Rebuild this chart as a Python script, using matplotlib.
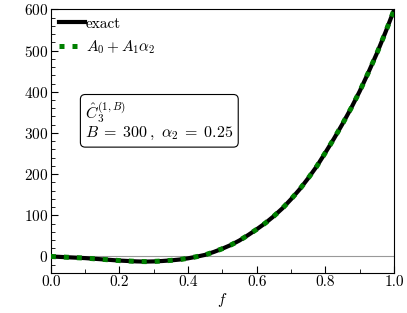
import numpy as np
import matplotlib
matplotlib.use("Agg")
import matplotlib.pyplot as plt

plt.rcParams['font.family'] = 'serif'
plt.rcParams['font.serif'] = ['cmr10']
plt.rcParams['mathtext.fontset'] = 'cm'
plt.rcParams['axes.formatter.use_mathtext'] = True
plt.rcParams['font.size'] = 11

# values
f = [0.000, 0.025, 0.050, 0.075, 0.100, 0.125, 0.150, 0.175, 0.200, 0.225,
     0.250, 0.275, 0.300, 0.325, 0.350, 0.375, 0.400, 0.425, 0.450, 0.475,
     0.500, 0.525, 0.550, 0.575, 0.600, 0.625, 0.650, 0.675, 0.700, 0.725,
     0.750, 0.775, 0.800, 0.825, 0.850, 0.875, 0.900, 0.925, 0.950, 0.975,
     1.000]
exact = [0, -1, -2, -3, -4, -5.5, -7, -8.5, -10, -11,
         -12, -12.5, -12, -11, -9.5, -7.5, -4.5, -0.5, 4, 11,
         19, 28, 39, 52, 66, 81, 98, 117, 139, 163,
         190, 219, 252, 286, 322, 360, 401, 446, 493, 544,
         598]
approx = list(exact)  # A0 + A1*alpha2 lies on top of the exact curve

fig = plt.figure(figsize=(4.07, 3.13), dpi=100)
ax = fig.add_axes([0.125, 0.128, 0.843, 0.842])

ax.axhline(0, color='#999999', lw=0.8, zorder=1)
ax.plot(f, exact, color='black', lw=3.0, label='exact', zorder=2)
ax.plot(f, approx, color='green', lw=3.6, dashes=(1, 1.6), dash_capstyle='butt',
        label=r'$A_0+A_1\alpha_2$', zorder=3)

ax.set_xlim(0, 1)
ax.set_ylim(-40, 600)
ax.set_xticks(np.arange(0, 1.01, 0.2))
ax.set_xticks(np.arange(0, 1.01, 0.1), minor=True)
ax.set_yticks(np.arange(0, 601, 100))
ax.set_yticks(np.arange(-40, 601, 20), minor=True)
ax.xaxis.set_major_formatter(matplotlib.ticker.FormatStrFormatter('%.1f'))
ax.tick_params(which='both', direction='in', top=False, right=False)
ax.tick_params(which='major', length=5, width=0.8, pad=2)
ax.tick_params(which='minor', length=3, width=0.6)
ax.set_xlabel(r'$f$', labelpad=1)

ax.legend(loc='upper left', frameon=False, handlelength=1.75, handletextpad=0.05,
          borderaxespad=0.3, borderpad=0.2, labelspacing=0.5)

ax.text(0.1, 0.655, r'$\hat{C}_3^{(1,B)}$' + '\n' + r'$B\;=\;300\,,\ \alpha_2\;=\;0.25$',
        transform=ax.transAxes, ha='left', va='top', fontsize=11.5,
        linespacing=1.0,
        bbox=dict(boxstyle='round,pad=0.3', fc='white', ec='black', lw=0.8))

fig.savefig('out.png', dpi=100)
